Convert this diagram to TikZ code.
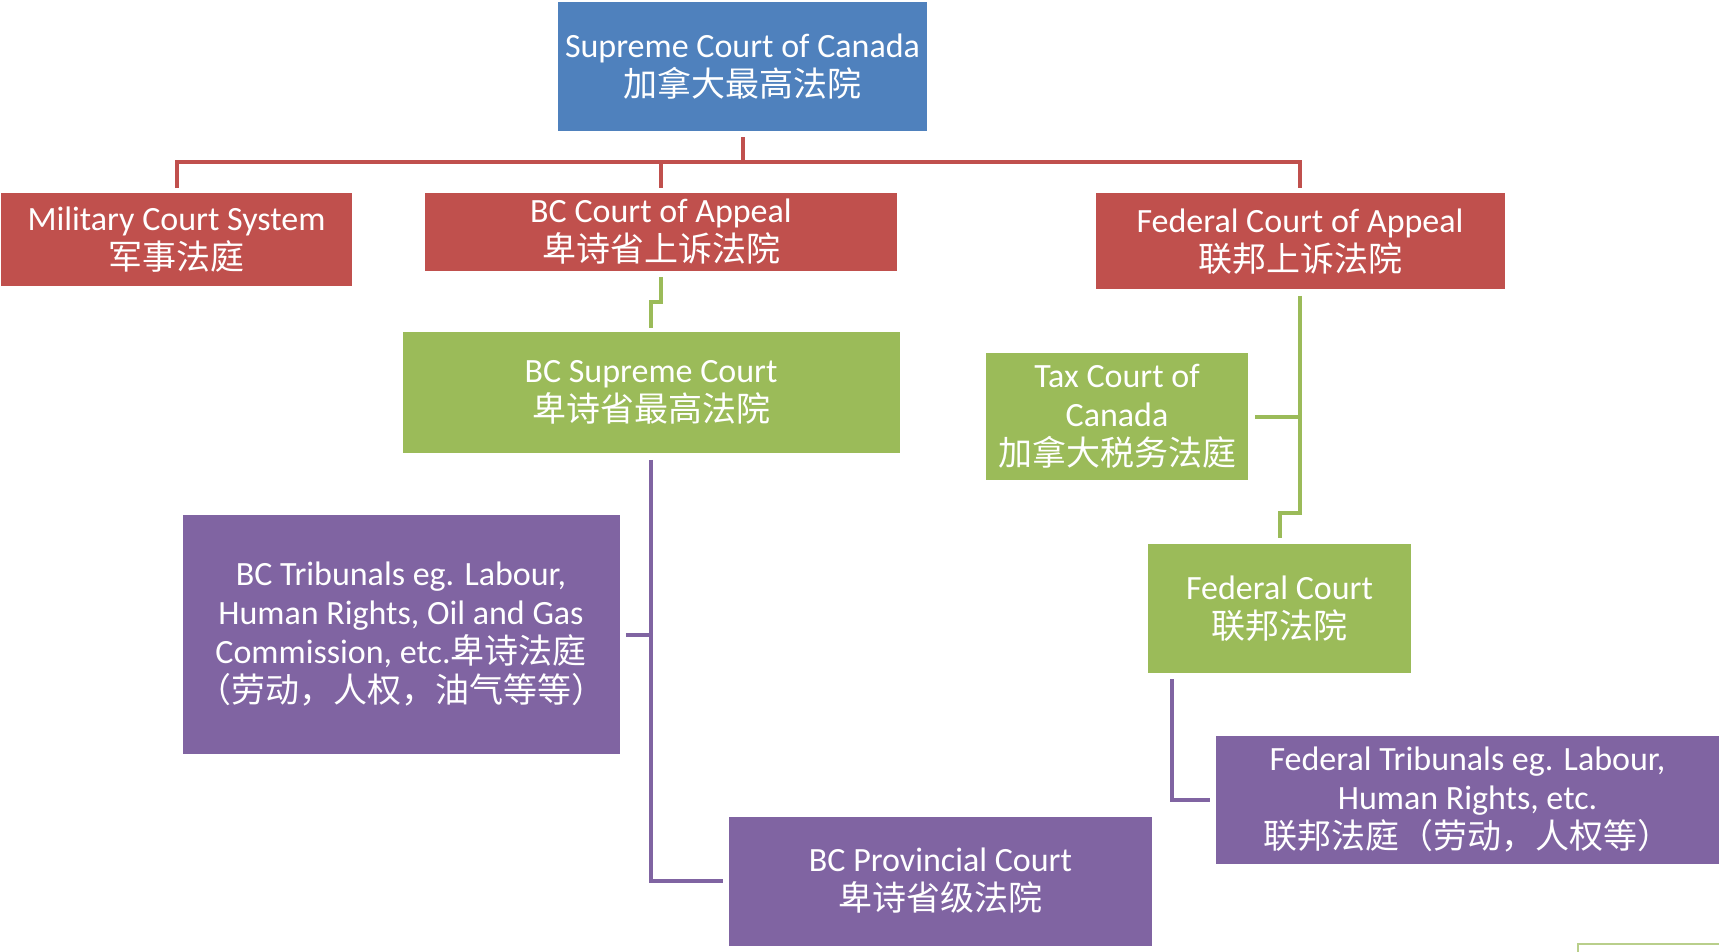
\documentclass[tikz,border=0pt]{standalone}
\usepackage{fontspec}
\setmainfont{Carlito}
\newfontfamily\cjk{Noto Sans CJK SC}
\definecolor{cblue}{HTML}{4F81BD}
\definecolor{cred}{HTML}{C0504D}
\definecolor{cgreen}{HTML}{9BBB59}
\definecolor{cpurple}{HTML}{8064A2}
\tikzset{
  box/.style={rectangle, inner sep=0pt, align=center, text=white,
    font=\fontsize{17}{19.5}\selectfont},
  bluebox/.style={box, fill=cblue},
  redbox/.style={box, fill=cred},
  greenbox/.style={box, fill=cgreen},
  purplebox/.style={box, fill=cpurple},
  redline/.style={draw=cred, line width=2pt},
  greenline/.style={draw=cgreen, line width=2pt},
  purpleline/.style={draw=cpurple, line width=2pt},
}
\begin{document}
\begin{tikzpicture}[x=0.5pt, y=-0.5pt]
\useasboundingbox (0,0) rectangle (1719,952);

\node[bluebox, minimum width=184.5pt, minimum height=64.5pt] (sup) at (742.5,66.5)
  {Supreme Court of Canada\\{\cjk 加拿大最高法院}};
\node[redbox, minimum width=175.5pt, minimum height=46.5pt] (mil) at (176.5,240)
  {Military Court System\\{\cjk 军事法庭}};
\node[redbox, minimum width=236pt, minimum height=39pt] (bcca) at (661,232)
  {BC Court of Appeal\\{\cjk 卑诗省上诉法院}};
\node[redbox, minimum width=204.5pt, minimum height=48pt] (fca) at (1300,241.5)
  {Federal Court of Appeal\\{\cjk 联邦上诉法院}};
\node[greenbox, minimum width=248.5pt, minimum height=60pt] (bcs) at (651,392.5)
  {BC Supreme Court\\{\cjk 卑诗省最高法院}};
\node[greenbox, minimum width=131pt, minimum height=63.5pt] (tax) at (1117,416.5)
  {Tax Court of\\Canada\\{\cjk 加拿大税务法庭}};
\node[greenbox, minimum width=131.5pt, minimum height=64.5pt] (fc) at (1279.5,608.5)
  {Federal Court\\{\cjk 联邦法院}};
\node[purplebox, minimum width=218.5pt, minimum height=119.5pt] (bct) at (401,634.5)
  {BC Tribunals eg. Labour,\\Human Rights, Oil and Gas\\Commission, etc.{\cjk 卑诗法庭}\\{\cjk （劳动，人权，油气等等）}};
\node[purplebox, minimum width=211.5pt, minimum height=64.5pt] (bcp) at (940.5,881)
  {BC Provincial Court\\{\cjk 卑诗省级法院}};
\node[purplebox, minimum width=251.5pt, minimum height=64pt] (fct) at (1467.5,800)
  {Federal Tribunals eg. Labour,\\Human Rights, etc.\\{\cjk 联邦法庭（劳动，人权等）}};

% red tree
\coordinate (trunk) at (0,162);
\draw[redline] ([yshift=-3pt]sup.south) -- (sup.south |- trunk);
\draw[redline] ([yshift=2.5pt]mil.north) -- (mil.north |- trunk) -- (fca.north |- trunk) -- ([yshift=2.5pt]fca.north);
\draw[redline] (bcca.north |- trunk) -- ([yshift=2.5pt]bcca.north);

% green: BC appeal -> BC supreme
\coordinate (j1) at (0,302);
\draw[greenline] ([yshift=-3pt]bcca.south) -- (bcca.south |- j1) -- (bcs.north |- j1) -- ([yshift=2pt]bcs.north);

% green: federal appeal -> federal court, tax court
\coordinate (j2) at (0,513);
\draw[greenline] ([yshift=-3pt]fca.south) -- (fca.south |- j2) -- (fc.north |- j2) -- ([yshift=3pt]fc.north);
\draw[greenline] ([xshift=3.5pt]tax.east) -- (fca.south |- tax.east);

% purple: BC supreme -> tribunals, provincial
\draw[purpleline] ([yshift=-3.5pt]bcs.south) -- (bcs.south |- bcp.west) -- ([xshift=-3pt]bcp.west);
\draw[purpleline] ([xshift=3pt]bct.east) -- (bcs.south |- bct.east);

% purple: federal court -> federal tribunals
\coordinate (fcs) at ([xshift=12pt,yshift=-3pt]fc.south west);
\draw[purpleline] (fcs) -- (fcs |- fct.west) -- ([xshift=-3pt]fct.west);

% partial box at bottom right edge
\draw[draw=cgreen!70, line width=0.8pt] (1578,953) -- (1578,944) -- (1720,944);
\end{tikzpicture}
\end{document}
